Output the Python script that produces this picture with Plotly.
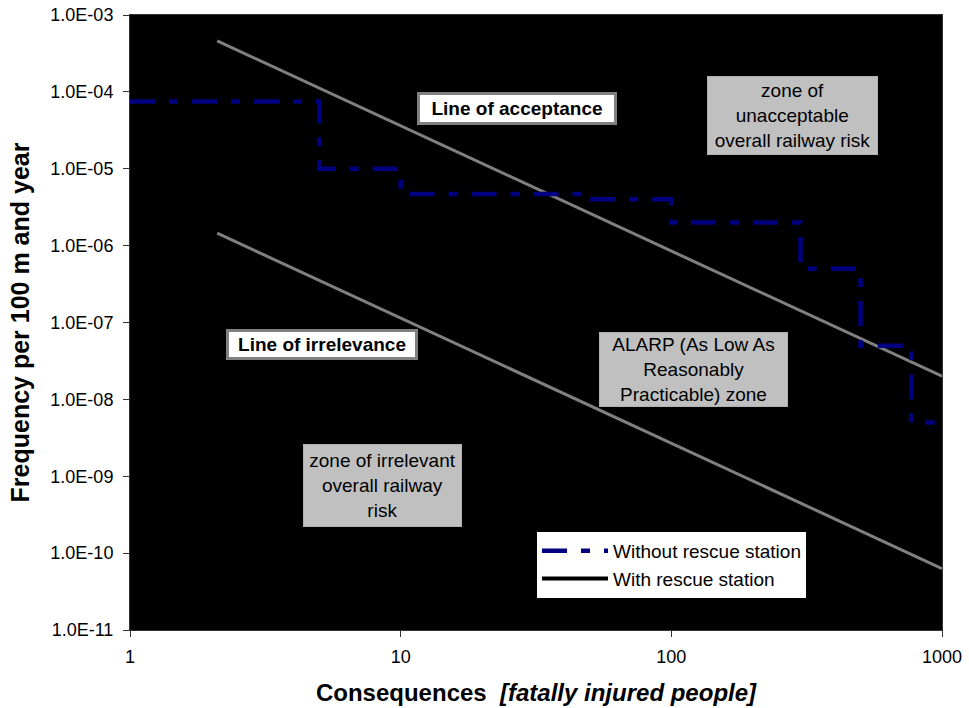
import plotly.graph_objects as go

# ---- data ----
step_x = [1, 5, 5, 10, 10, 50, 50, 100, 100, 300, 300, 500, 500, 770, 770, 940]
step_y = [7.5e-5, 7.5e-5, 1e-5, 1e-5, 4.7e-6, 4.7e-6, 4e-6, 4e-6, 2e-6, 2e-6,
          5e-7, 5e-7, 5e-8, 5e-8, 5e-9, 5e-9]

accept_x = [2.1, 1000]
accept_y = [4.6e-4, 2.0e-8]
irrel_x = [2.1, 1000]
irrel_y = [1.45e-6, 6.3e-11]

y_tickvals = [1e-11, 1e-10, 1e-9, 1e-8, 1e-7, 1e-6, 1e-5, 1e-4, 1e-3]
y_ticktext = ["1.0E-11", "1.0E-10", "1.0E-09", "1.0E-08", "1.0E-07",
              "1.0E-06", "1.0E-05", "1.0E-04", "1.0E-03"]
x_tickvals = [1, 10, 100, 1000]
x_ticktext = ["1", "10", "100", "1000"]

FONT = "Liberation Sans, Arial, sans-serif"

fig = go.Figure()
fig.add_trace(go.Scatter(x=accept_x, y=accept_y, mode="lines",
                         line=dict(color="#808080", width=3), showlegend=False,
                         hoverinfo="skip"))
fig.add_trace(go.Scatter(x=irrel_x, y=irrel_y, mode="lines",
                         line=dict(color="#808080", width=3), showlegend=False,
                         hoverinfo="skip"))
fig.add_trace(go.Scatter(x=step_x, y=step_y, mode="lines",
                         name="Without rescue station",
                         line=dict(color="#000080", width=4.5,
                                   dash="25px,14px,9px,14px")))
fig.add_trace(go.Scatter(x=[None], y=[None], mode="lines",
                         name="With rescue station",
                         line=dict(color="#000000", width=4)))

W, H = 969, 708
L, R, T, B = 130, 942, 15, 630


def px(xp):
    return (xp - L) / (R - L)


def py(yp):
    return (B - yp) / (B - T)


def box(text, x0, x1, y0, y1, bg, border, bw, bold=False):
    return dict(
        text=("<b>%s</b>" % text) if bold else text,
        xref="paper", yref="paper",
        x=px((x0 + x1) / 2), y=py((y0 + y1) / 2),
        xanchor="center", yanchor="middle",
        showarrow=False, align="center",
        width=(x1 - x0) - 2 * bw, height=(y1 - y0) - 2 * bw,
        bgcolor=bg, bordercolor=border, borderwidth=bw, borderpad=0,
        font=dict(family=FONT, size=19, color="#000000"),
    )


annotations = [
    box("Line of acceptance", 417, 617, 92, 125, "#ffffff", "#808080", 3, bold=True),
    box("zone of<br>unacceptable<br>overall railway risk", 707, 878, 76, 155,
        "#c0c0c0", "#b0b0b0", 1),
    box("ALARP (As Low As<br>Reasonably<br>Practicable) zone", 599, 788, 332, 407,
        "#c0c0c0", "#b0b0b0", 1),
    box("Line of irrelevance", 226, 418, 329, 360, "#ffffff", "#808080", 3, bold=True),
    box("zone of irrelevant<br>overall railway<br>risk", 303, 462, 444, 527,
        "#c0c0c0", "#b0b0b0", 1),
]

fig.update_layout(
    width=W, height=H,
    margin=dict(l=L, r=W - R, t=T, b=H - B, autoexpand=False),
    paper_bgcolor="#ffffff",
    plot_bgcolor="#000000",
    font=dict(family=FONT, size=19, color="#000000"),
    annotations=annotations,
    legend=dict(x=px(537), y=py(532), xanchor="left", yanchor="top",
                bgcolor="#ffffff", borderwidth=0, itemwidth=66,
                font=dict(family=FONT, size=19, color="#000000"),
                tracegroupgap=0),
    xaxis=dict(type="log", range=[0, 3], tickvals=x_tickvals, ticktext=x_ticktext,
               showgrid=False, zeroline=False, ticks="outside", ticklen=6,
               tickcolor="#333333", showline=True, linecolor="#333333", mirror=True,
               automargin=False, ticklabeloverflow="allow", ticklabelstandoff=4,
               tickfont=dict(family=FONT, size=18),
               title=dict(text="<b>Consequences  <i>[fatally injured people]</i></b>",
                          font=dict(family=FONT, size=24), standoff=18)),
    yaxis=dict(type="log", range=[-11, -3], tickvals=y_tickvals, ticktext=y_ticktext,
               showgrid=False, zeroline=False, ticks="outside", ticklen=6,
               tickcolor="#333333", showline=True, linecolor="#333333", mirror=True,
               automargin=False, ticklabeloverflow="allow", ticklabelstandoff=6,
               tickfont=dict(family=FONT, size=18),
               title=dict(text="<b>Frequency per 100 m and year</b>",
                          font=dict(family=FONT, size=25), standoff=13)),
)

fig.write_html("out.html", config={"displayModeBar": False},
               post_script="document.body.style.margin='0';")
